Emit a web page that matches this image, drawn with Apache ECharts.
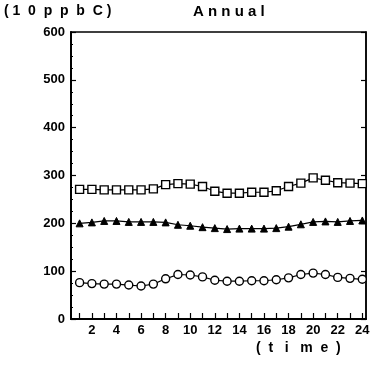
<!DOCTYPE html>
<html><head><meta charset="utf-8">
<script src="https://cdn.jsdelivr.net/npm/echarts@6/dist/echarts.min.js"></script>
<style>html,body{margin:0;padding:0;background:#fff}#c{width:379px;height:366px}</style>
</head><body><div id="c"></div>
<script>
const hours = [1,2,3,4,5,6,7,8,9,10,11,12,13,14,15,16,17,18,19,20,21,22,23,24];
const xTickLabels = [2,4,6,8,10,12,14,16,18,20,22,24];
const yTicks = [0,100,200,300,400,500,600];
const squares = [271,271,270,270,270,270,272,281,283,282,277,267,263,263,265,265,268,277,284,295,290,285,284,283];
const triangles = [200,202,205,205,203,203,203,202,197,195,192,190,188,189,189,189,190,193,198,203,204,203,205,206];
const circles = [76,74,73,73,71,69,73,84,93,92,88,81,79,79,80,80,82,86,93,96,93,87,85,83];
const unitTitle = '( 1  0  p  p  b  C )';
const periodTitle = 'A n n u a l';
const xName = '(  t   i   m  e  )';

const font = 'Liberation Sans, Arial, sans-serif';
const chart = echarts.init(document.getElementById('c'));
function pairs(v){ return hours.map((h,i)=>[h,v[i]]); }
const lineCommon = {type:'line', lineStyle:{color:'#000',width:1.2}, animation:false};
chart.setOption({
  animation:false,
  grid:{left:71,right:13,top:32,bottom:47,show:true,borderColor:'#000',borderWidth:1.5,backgroundColor:'transparent'},
  xAxis:[{
    type:'value', min:0.3, max:24.3,
    axisLine:{show:true,onZero:false,lineStyle:{color:'#000',width:2}},
    axisTick:{show:true,inside:true,length:6,customValues:hours,lineStyle:{color:'#000',width:1.2}},
    axisLabel:{customValues:xTickLabels,color:'#000',fontFamily:font,fontWeight:'bold',fontSize:13,margin:5},
    splitLine:{show:false}
  }],
  yAxis:[{
    type:'value', min:0, max:600, interval:100,
    axisLine:{show:true,lineStyle:{color:'#000',width:2}},
    axisTick:{show:true,inside:true,length:5,lineStyle:{color:'#000',width:1.2}},
    minorTick:{show:true,splitNumber:4,length:2,lineStyle:{color:'#000'}},
    axisLabel:{color:'#000',fontFamily:font,fontWeight:'bold',fontSize:13,margin:6,customValues:yTicks},
    splitLine:{show:false}
  },{
    type:'value', min:0, max:600, interval:100, position:'right',
    axisLine:{show:true,lineStyle:{color:'#000',width:1.5}},
    axisTick:{show:true,inside:true,length:5,lineStyle:{color:'#000',width:1.2}},
    axisLabel:{show:false}, splitLine:{show:false}
  }],
  graphic:[
    {type:'text',left:4,top:4,style:{text:unitTitle,font:'bold 14px '+font,fill:'#000'}},
    {type:'text',left:193,top:4,style:{text:periodTitle,font:'bold 15px '+font,fill:'#000'}},
    {type:'text',left:256,top:341,style:{text:xName,font:'bold 14px '+font,fill:'#000'}}
  ],
  series:[
    Object.assign({},lineCommon,{data:pairs(squares),symbol:'rect',symbolSize:8,itemStyle:{color:'#fff',borderColor:'#000',borderWidth:1.4}}),
    Object.assign({},lineCommon,{data:pairs(triangles),symbol:'triangle',symbolSize:7,itemStyle:{color:'#000',borderColor:'#000',borderWidth:1}}),
    Object.assign({},lineCommon,{data:pairs(circles),symbol:'circle',symbolSize:8,itemStyle:{color:'#fff',borderColor:'#000',borderWidth:1.4}})
  ]
});
</script></body></html>
